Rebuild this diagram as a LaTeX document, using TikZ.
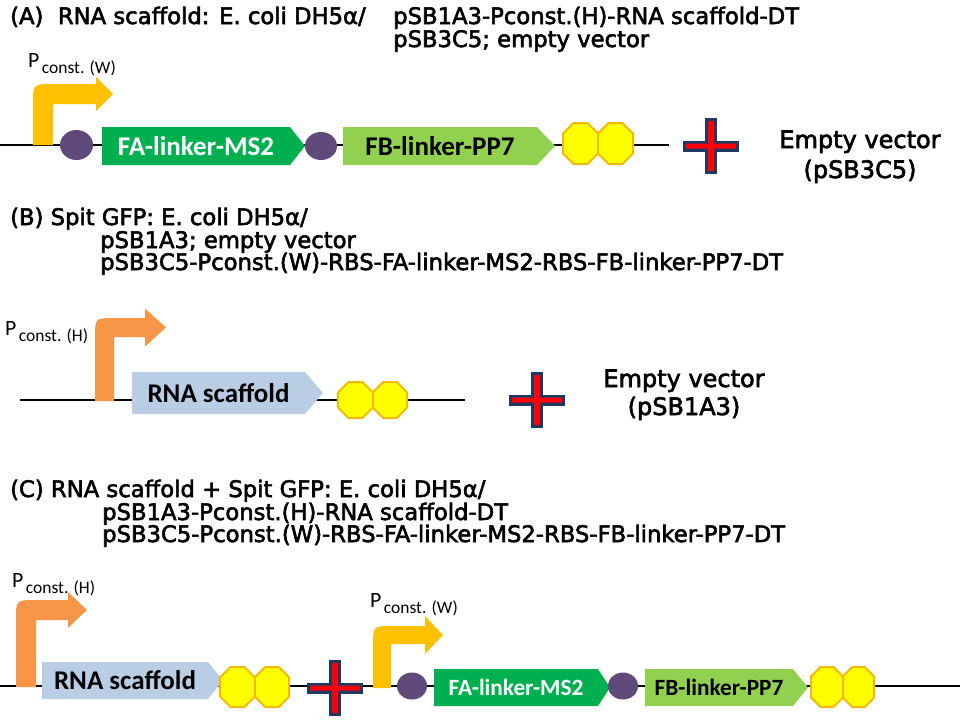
\documentclass[tikz,border=0pt]{standalone}
\usepackage{fontspec}
\setmainfont{Carlito}
\newfontfamily\hdr[FakeBold=2.5]{DejaVu Sans}
\usetikzlibrary{shapes.geometric}
\definecolor{promY}{HTML}{FFC000}
\definecolor{promO}{HTML}{F79646}
\definecolor{rbsP}{HTML}{604A7B}
\definecolor{faG}{HTML}{00B050}
\definecolor{fbG}{HTML}{92D050}
\definecolor{rnaB}{HTML}{B9CDE5}
\definecolor{termY}{HTML}{FFFF00}
\definecolor{termO}{HTML}{F5B800}
\definecolor{crossR}{HTML}{FF0000}
\definecolor{crossN}{HTML}{1F3864}
\tikzset{
  hdrtext/.style={anchor=base west, inner sep=0, font=\hdr\fontsize{22.7}{22.7}\selectfont},
  evtext/.style={anchor=base, inner sep=0, font=\hdr\fontsize{24}{24}\selectfont},
  plabel/.style={anchor=base west, inner sep=0},
  psub/.style={anchor=base west, inner sep=0},
  backbone/.style={line width=2.5pt, black},
  rbs/.style={ellipse, fill=rbsP, inner sep=0},
  cdslabel/.style={inner sep=0, font=\bfseries},
  term/.style={fill=termY, draw=termO, line width=2pt, line join=miter},
}
% promoter: color, x0, w, ybase, ytop, xhead, xtip, H
\newcommand\promo[8]{%
  \fill[#1] (#2,#4) -- (#2,{#5+20}) .. controls (#2,#5) .. ({#2+20},#5) -- (#6,#5)
   -- (#6,{#5+#3/2-#8}) -- (#7,{#5+#3/2}) -- (#6,{#5+#3/2+#8}) -- (#6,{#5+#3})
   -- ({#2+#3+4},{#5+#3}) .. controls ({#2+#3},{#5+#3}) .. ({#2+#3},{#5+#3+4})
   -- ({#2+#3},#4) -- cycle;}
% cds: name, fill, x1, xshaft, xtip, y1, y2, text
\newcommand\cds[8]{%
  \fill[#2] (#3,#6) -- (#4,#6) -- (#5,{(#6+#7)/2}) -- (#4,#7) -- (#3,#7) -- cycle;
  \node[cdslabel] (#1) at ({(#3+#4)/2},{(#6+#7)/2}) {#8};}
% terminator octagon: x1 x2 y1 y2
\newcommand\octa[4]{%
  \pgfmathsetmacro\oc{0.3*(#2-#1)}%
  \draw[term] ({#1+\oc},#3) -- ({#2-\oc},#3) -- (#2,{#3+\oc}) -- (#2,{#4-\oc})
   -- ({#2-\oc},#4) -- ({#1+\oc},#4) -- (#1,{#4-\oc}) -- (#1,{#3+\oc}) -- cycle;}
% plus sign: cx cy
\newcommand\plusmark[2]{%
  \draw[crossN, line width=6pt, line join=miter]
    ({#1-3},{#2-25}) rectangle ({#1+3},{#2+25})
    ({#1-25},{#2-2.5}) rectangle ({#1+25},{#2+2.5});
  \fill[crossR]
    ({#1-3},{#2-25}) rectangle ({#1+3},{#2+25})
    ({#1-25},{#2-2.5}) rectangle ({#1+25},{#2+2.5});}
% promoter label text, scaled to fixed sizes
\newlength\sublen
\newcommand\subtext[1]{\settowidth\sublen{const. (W)}%
  \pgfmathsetmacro\subsc{74/\sublen}\scalebox{\subsc}{const. (#1)}}
% promoter label: name, x, y, letter
\newcommand\pconst[4]{%
  \node[plabel] (#1) at (#2,#3) {\resizebox{!}{14pt}{P}};
  \node[psub] (#1s) at ([xshift=2pt,yshift=-6pt]#1.base east) {\subtext{#4}};}
\begin{document}
\begin{tikzpicture}[x=1pt,y=-1pt]
\useasboundingbox[fill=white] (0,0) rectangle (960,720);

% ---------- Panel A ----------
\node[hdrtext] (ha1) at (10,24) {(A)\ \ RNA scaffold: E. coli DH5α/};
\node[hdrtext] (ha2) at (393,24) {pSB1A3-Pconst.(H)-RNA scaffold-DT};
\node[hdrtext] (ha3) at (393,47) {pSB3C5; empty vector};
\coordinate (a0) at (0,145);
\coordinate (a1) at (669,145);
\draw[backbone] (a0) -- (a1);
\promo{promY}{33}{20}{145}{84}{96}{113}{17}
\pconst{pa}{28}{67}{W}
\node[rbs, minimum width=33pt, minimum height=30pt] (ra1) at (76.5,145) {};
\cds{fa}{faG}{102}{290}{305}{127}{165}{\color{white}\fontsize{27}{27}\selectfont FA-linker-MS2}
\node[rbs, minimum width=32pt, minimum height=28pt] (ra2) at (321,146) {};
\cds{fb}{fbG}{343}{537}{555}{127}{165}{\fontsize{27}{27}\selectfont FB-linker-PP7}
\octa{563}{598}{123}{164}
\octa{598}{633}{123}{164}
\plusmark{711}{146}
\node[evtext] (eva1) at (860,148) {Empty vector};
\node[evtext] (eva2) at (860,178) {(pSB3C5)};

% ---------- Panel B ----------
\node[hdrtext] (hb1) at (10,225) {(B) Spit GFP: E. coli DH5α/};
\node[hdrtext] (hb2) at (100,248) {pSB1A3; empty vector};
\node[hdrtext] (hb3) at (100,270) {pSB3C5-Pconst.(W)-RBS-FA-linker-MS2-RBS-FB-linker-PP7-DT};
\coordinate (b0) at (20,400);
\coordinate (b1) at (465,400);
\draw[backbone] (b0) -- (b1);
\promo{promO}{95}{19}{401}{318}{145}{166}{19}
\pconst{pb}{5}{335}{H}
\cds{rnab}{rnaB}{132}{305}{323}{372}{414}{\fontsize{27}{27}\selectfont RNA scaffold}
\octa{338}{373}{382}{418}
\octa{373}{407}{382}{418}
\plusmark{537}{400}
\node[evtext] (evb1) at (684,387) {Empty vector};
\node[evtext] (evb2) at (684,415) {(pSB1A3)};

% ---------- Panel C ----------
\node[hdrtext] (hc1) at (10,497) {(C) RNA scaffold + Spit GFP: E. coli DH5α/};
\node[hdrtext] (hc2) at (102,520) {pSB1A3-Pconst.(H)-RNA scaffold-DT};
\node[hdrtext] (hc3) at (102,542) {pSB3C5-Pconst.(W)-RBS-FA-linker-MS2-RBS-FB-linker-PP7-DT};
\coordinate (c0) at (0,686);
\coordinate (c1) at (960,686);
\draw[backbone] (c0) -- (c1);
\promo{promO}{16}{20}{687}{600}{68}{87}{18}
\pconst{pc1}{12}{587}{H}
\cds{rnac}{rnaB}{42}{208}{223}{662}{699}{\fontsize{27}{27}\selectfont RNA scaffold}
\octa{220}{255}{667}{707}
\octa{255}{289}{667}{707}
\plusmark{335}{688}
\promo{promY}{373}{18}{688}{626}{425}{443}{19}
\pconst{pc2}{370}{607}{W}
\node[rbs, minimum width=30pt, minimum height=27pt] (rc1) at (412,686) {};
\cds{fac}{faG}{434}{598}{610}{669}{706}{\color{white}\fontsize{23.3}{23.3}\selectfont FA-linker-MS2}
\node[rbs, minimum width=30pt, minimum height=27pt] (rc2) at (623,686) {};
\cds{fbc}{fbG}{645}{793}{808}{669}{706}{\fontsize{23.3}{23.3}\selectfont FB-linker-PP7}
\octa{811}{843}{667}{707}
\octa{843}{874}{667}{707}
\end{tikzpicture}
\end{document}
